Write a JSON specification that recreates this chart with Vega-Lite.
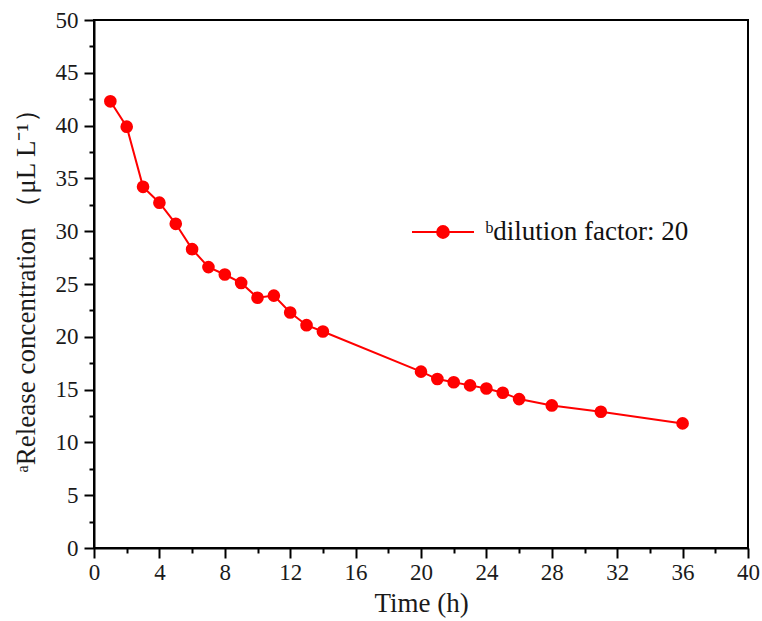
{
  "$schema": "https://vega.github.io/schema/vega-lite/v6.json",
  "width": 654,
  "height": 528,
  "autosize": {"type": "none"},
  "padding": {"left": 94, "top": 20, "right": 14, "bottom": 73},
  "background": "white",
  "config": {
    "font": "Liberation Serif",
    "view": {"stroke": "black", "strokeWidth": 2},
    "axis": {
      "grid": false,
      "domainColor": "black",
      "domainWidth": 2,
      "tickColor": "black",
      "tickWidth": 2,
      "labelColor": "#1a1a1a",
      "titleFontWeight": "normal",
      "titleColor": "#1a1a1a",
      "labelOverlap": false,
      "labelFlush": false
    }
  },
  "data": {
    "values": [
      {"t": 1, "c": 42.3, "s": "ᵇdilution factor: 20"},
      {"t": 2, "c": 39.9, "s": "ᵇdilution factor: 20"},
      {"t": 3, "c": 34.2, "s": "ᵇdilution factor: 20"},
      {"t": 4, "c": 32.7, "s": "ᵇdilution factor: 20"},
      {"t": 5, "c": 30.7, "s": "ᵇdilution factor: 20"},
      {"t": 6, "c": 28.3, "s": "ᵇdilution factor: 20"},
      {"t": 7, "c": 26.6, "s": "ᵇdilution factor: 20"},
      {"t": 8, "c": 25.9, "s": "ᵇdilution factor: 20"},
      {"t": 9, "c": 25.1, "s": "ᵇdilution factor: 20"},
      {"t": 10, "c": 23.7, "s": "ᵇdilution factor: 20"},
      {"t": 11, "c": 23.9, "s": "ᵇdilution factor: 20"},
      {"t": 12, "c": 22.3, "s": "ᵇdilution factor: 20"},
      {"t": 13, "c": 21.1, "s": "ᵇdilution factor: 20"},
      {"t": 14, "c": 20.5, "s": "ᵇdilution factor: 20"},
      {"t": 20, "c": 16.7, "s": "ᵇdilution factor: 20"},
      {"t": 21, "c": 16.0, "s": "ᵇdilution factor: 20"},
      {"t": 22, "c": 15.7, "s": "ᵇdilution factor: 20"},
      {"t": 23, "c": 15.4, "s": "ᵇdilution factor: 20"},
      {"t": 24, "c": 15.1, "s": "ᵇdilution factor: 20"},
      {"t": 25, "c": 14.7, "s": "ᵇdilution factor: 20"},
      {"t": 26, "c": 14.1, "s": "ᵇdilution factor: 20"},
      {"t": 28, "c": 13.5, "s": "ᵇdilution factor: 20"},
      {"t": 31, "c": 12.9, "s": "ᵇdilution factor: 20"},
      {"t": 36, "c": 11.8, "s": "ᵇdilution factor: 20"}
    ]
  },
  "encoding": {
    "x": {
      "field": "t",
      "type": "quantitative",
      "scale": {"domain": [0, 40], "nice": false, "zero": false},
      "axis": {
        "title": "Time (h)",
        "titleFont": "Liberation Serif",
        "titleFontSize": 27,
        "labelFont": "Liberation Serif",
        "labelFontSize": 23,
        "values": [0,2,4,6,8,10,12,14,16,18,20,22,24,26,28,30,32,34,36,38,40],
        "labelExpr": "datum.value % 4 === 0 ? datum.label : ''",
        "format": "d",
        "tickSize": {"condition": {"test": "datum.value % 4 === 0", "value": 10}, "value": 5},
        "labelPadding": 3,
        "titlePadding": 6
      }
    },
    "y": {
      "field": "c",
      "type": "quantitative",
      "scale": {"domain": [0, 50], "nice": false},
      "axis": {
        "title": "ᵃRelease concentration （μL L⁻¹）",
        "titleFont": "Liberation Serif",
        "titleFontSize": 27,
        "labelFont": "Liberation Serif",
        "labelFontSize": 23,
        "values": [0,2.5,5,7.5,10,12.5,15,17.5,20,22.5,25,27.5,30,32.5,35,37.5,40,42.5,45,47.5,50],
        "labelExpr": "datum.value % 5 === 0 ? datum.label : ''",
        "format": "d",
        "tickSize": {"condition": {"test": "datum.value % 5 === 0", "value": 10}, "value": 5},
        "labelPadding": 6,
        "titlePadding": 15
      }
    },
    "color": {
      "field": "s",
      "type": "nominal",
      "scale": {"range": ["#ff0000"]},
      "legend": {
        "title": null,
        "orient": "none",
        "legendX": 317,
        "legendY": 180,
        "symbolType": "M-1,0L1,0M-0.19,0A0.19,0.19 0 1,0 0.19,0A0.19,0.19 0 1,0 -0.19,0Z",
        "symbolSize": 3844,
        "symbolStrokeWidth": 2,
        "symbolFillColor": "#ff0000",
        "symbolStrokeColor": "#ee0000",
        "labelFont": "Liberation Serif",
        "labelFontSize": 27,
        "labelColor": "#111",
        "labelOffset": 10,
        "labelLimit": 400
      }
    }
  },
  "layer": [
    {"mark": {"type": "line", "strokeWidth": 2, "color": "#ee0000"}},
    {"mark": {"type": "circle", "size": 160, "opacity": 1}}
  ]
}
